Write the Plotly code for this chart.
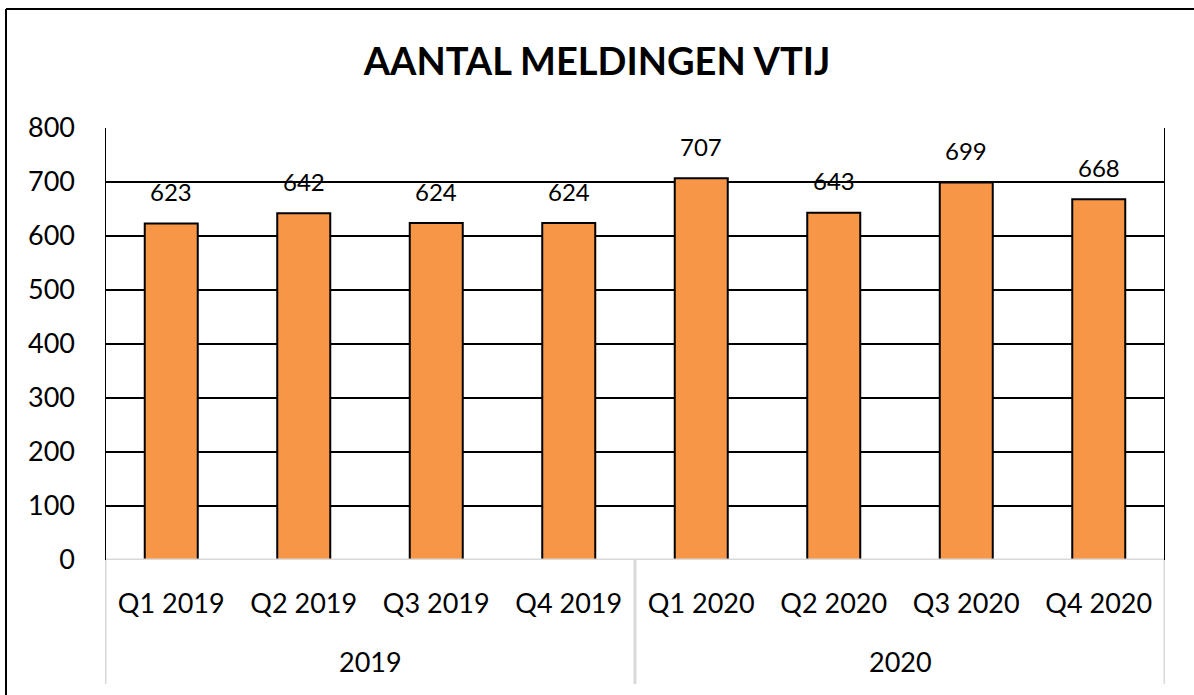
import plotly.graph_objects as go

quarters = ["Q1 2019", "Q2 2019", "Q3 2019", "Q4 2019", "Q1 2020", "Q2 2020", "Q3 2020", "Q4 2020"]
years = ["2019", "2020"]
values = [623, 642, 624, 624, 707, 643, 699, 668]
y_ticks = [0, 100, 200, 300, 400, 500, 600, 700, 800]

FONT = "Lato"
W, H = 1194, 695
L, R, T, B = 105, 29, 128, 135
plot_h = H - T - B
plot_w = W - L - R

xs = list(range(len(quarters)))

fig = go.Figure()
fig.add_trace(go.Bar(
    x=xs, y=values, width=0.4,
    marker=dict(color="#F79646", line=dict(color="black", width=2)),
    hoverinfo="skip",
))

for x, v in zip(xs, values):
    fig.add_annotation(x=x, y=v, xref="x", yref="y", text=str(v), showarrow=False,
                       yanchor="middle", yshift=32, font=dict(family=FONT, size=24, color="black"))

n_per_year = len(quarters) // len(years)
for i, yr in enumerate(years):
    cx = i * n_per_year + (n_per_year - 1) / 2
    fig.add_annotation(x=cx, y=-(661 - 560) / plot_h, xref="x", yref="paper", text=yr,
                       showarrow=False, yanchor="middle", font=dict(family=FONT, size=27, color="black"))

shapes = []
# gray bottom axis line
shapes.append(dict(type="line", xref="x", yref="y", x0=-0.5, x1=len(quarters) - 0.5, y0=0, y1=0,
                   line=dict(color="#d9d9d9", width=3), layer="above"))
# gray vertical dividers
for k in range(len(years) + 1):
    xv = k * n_per_year - 0.5
    shapes.append(dict(type="line", xref="x", yref="paper", x0=xv, x1=xv, y0=0, y1=-(684 - 560) / plot_h,
                       line=dict(color="#d9d9d9", width=3)))
# black plot border (left, right)
shapes.append(dict(type="line", xref="x", yref="y", x0=-0.5, x1=-0.5, y0=0, y1=y_ticks[-1],
                   line=dict(color="black", width=2), layer="above"))
shapes.append(dict(type="line", xref="x", yref="y", x0=len(quarters) - 0.5, x1=len(quarters) - 0.5, y0=0, y1=y_ticks[-1],
                   line=dict(color="black", width=2), layer="above"))
# outer chart border (left and top)
bx = -(L - 6) / plot_w
by = 1 + (T - 9) / plot_h
shapes.append(dict(type="line", xref="paper", yref="paper", x0=bx, x1=bx, y0=by, y1=-(B + 5) / plot_h,
                   line=dict(color="black", width=2)))
shapes.append(dict(type="line", xref="paper", yref="paper", x0=bx, x1=1 + (R + 5) / plot_w, y0=by, y1=by,
                   line=dict(color="black", width=2)))

fig.update_layout(
    width=W, height=H,
    margin=dict(l=L, r=R, t=T, b=B),
    paper_bgcolor="white", plot_bgcolor="white",
    showlegend=False,
    title=dict(text="<b>AANTAL MELDINGEN VTIJ</b>", x=0.5, xanchor="center", y=1 - 62 / H, yanchor="middle",
               font=dict(family=FONT, size=38, color="black")),
    shapes=shapes,
    xaxis=dict(range=[-0.5, len(quarters) - 0.5], tickvals=xs, ticktext=quarters,
               showgrid=False, zeroline=False, showline=False, ticks="",
               ticklabelstandoff=25,
               tickfont=dict(family=FONT, size=27, color="black"), fixedrange=True),
    yaxis=dict(range=[0, y_ticks[-1]], tickvals=y_ticks, showgrid=True, gridcolor="black", gridwidth=2,
               zeroline=False, showline=False, ticks="", ticklabelstandoff=29,
               tickfont=dict(family=FONT, size=27, color="black"), fixedrange=True),
    bargap=0.6,
)

fig.write_html("out.html", config={"displayModeBar": False},
               post_script="document.body.style.margin='0';")
